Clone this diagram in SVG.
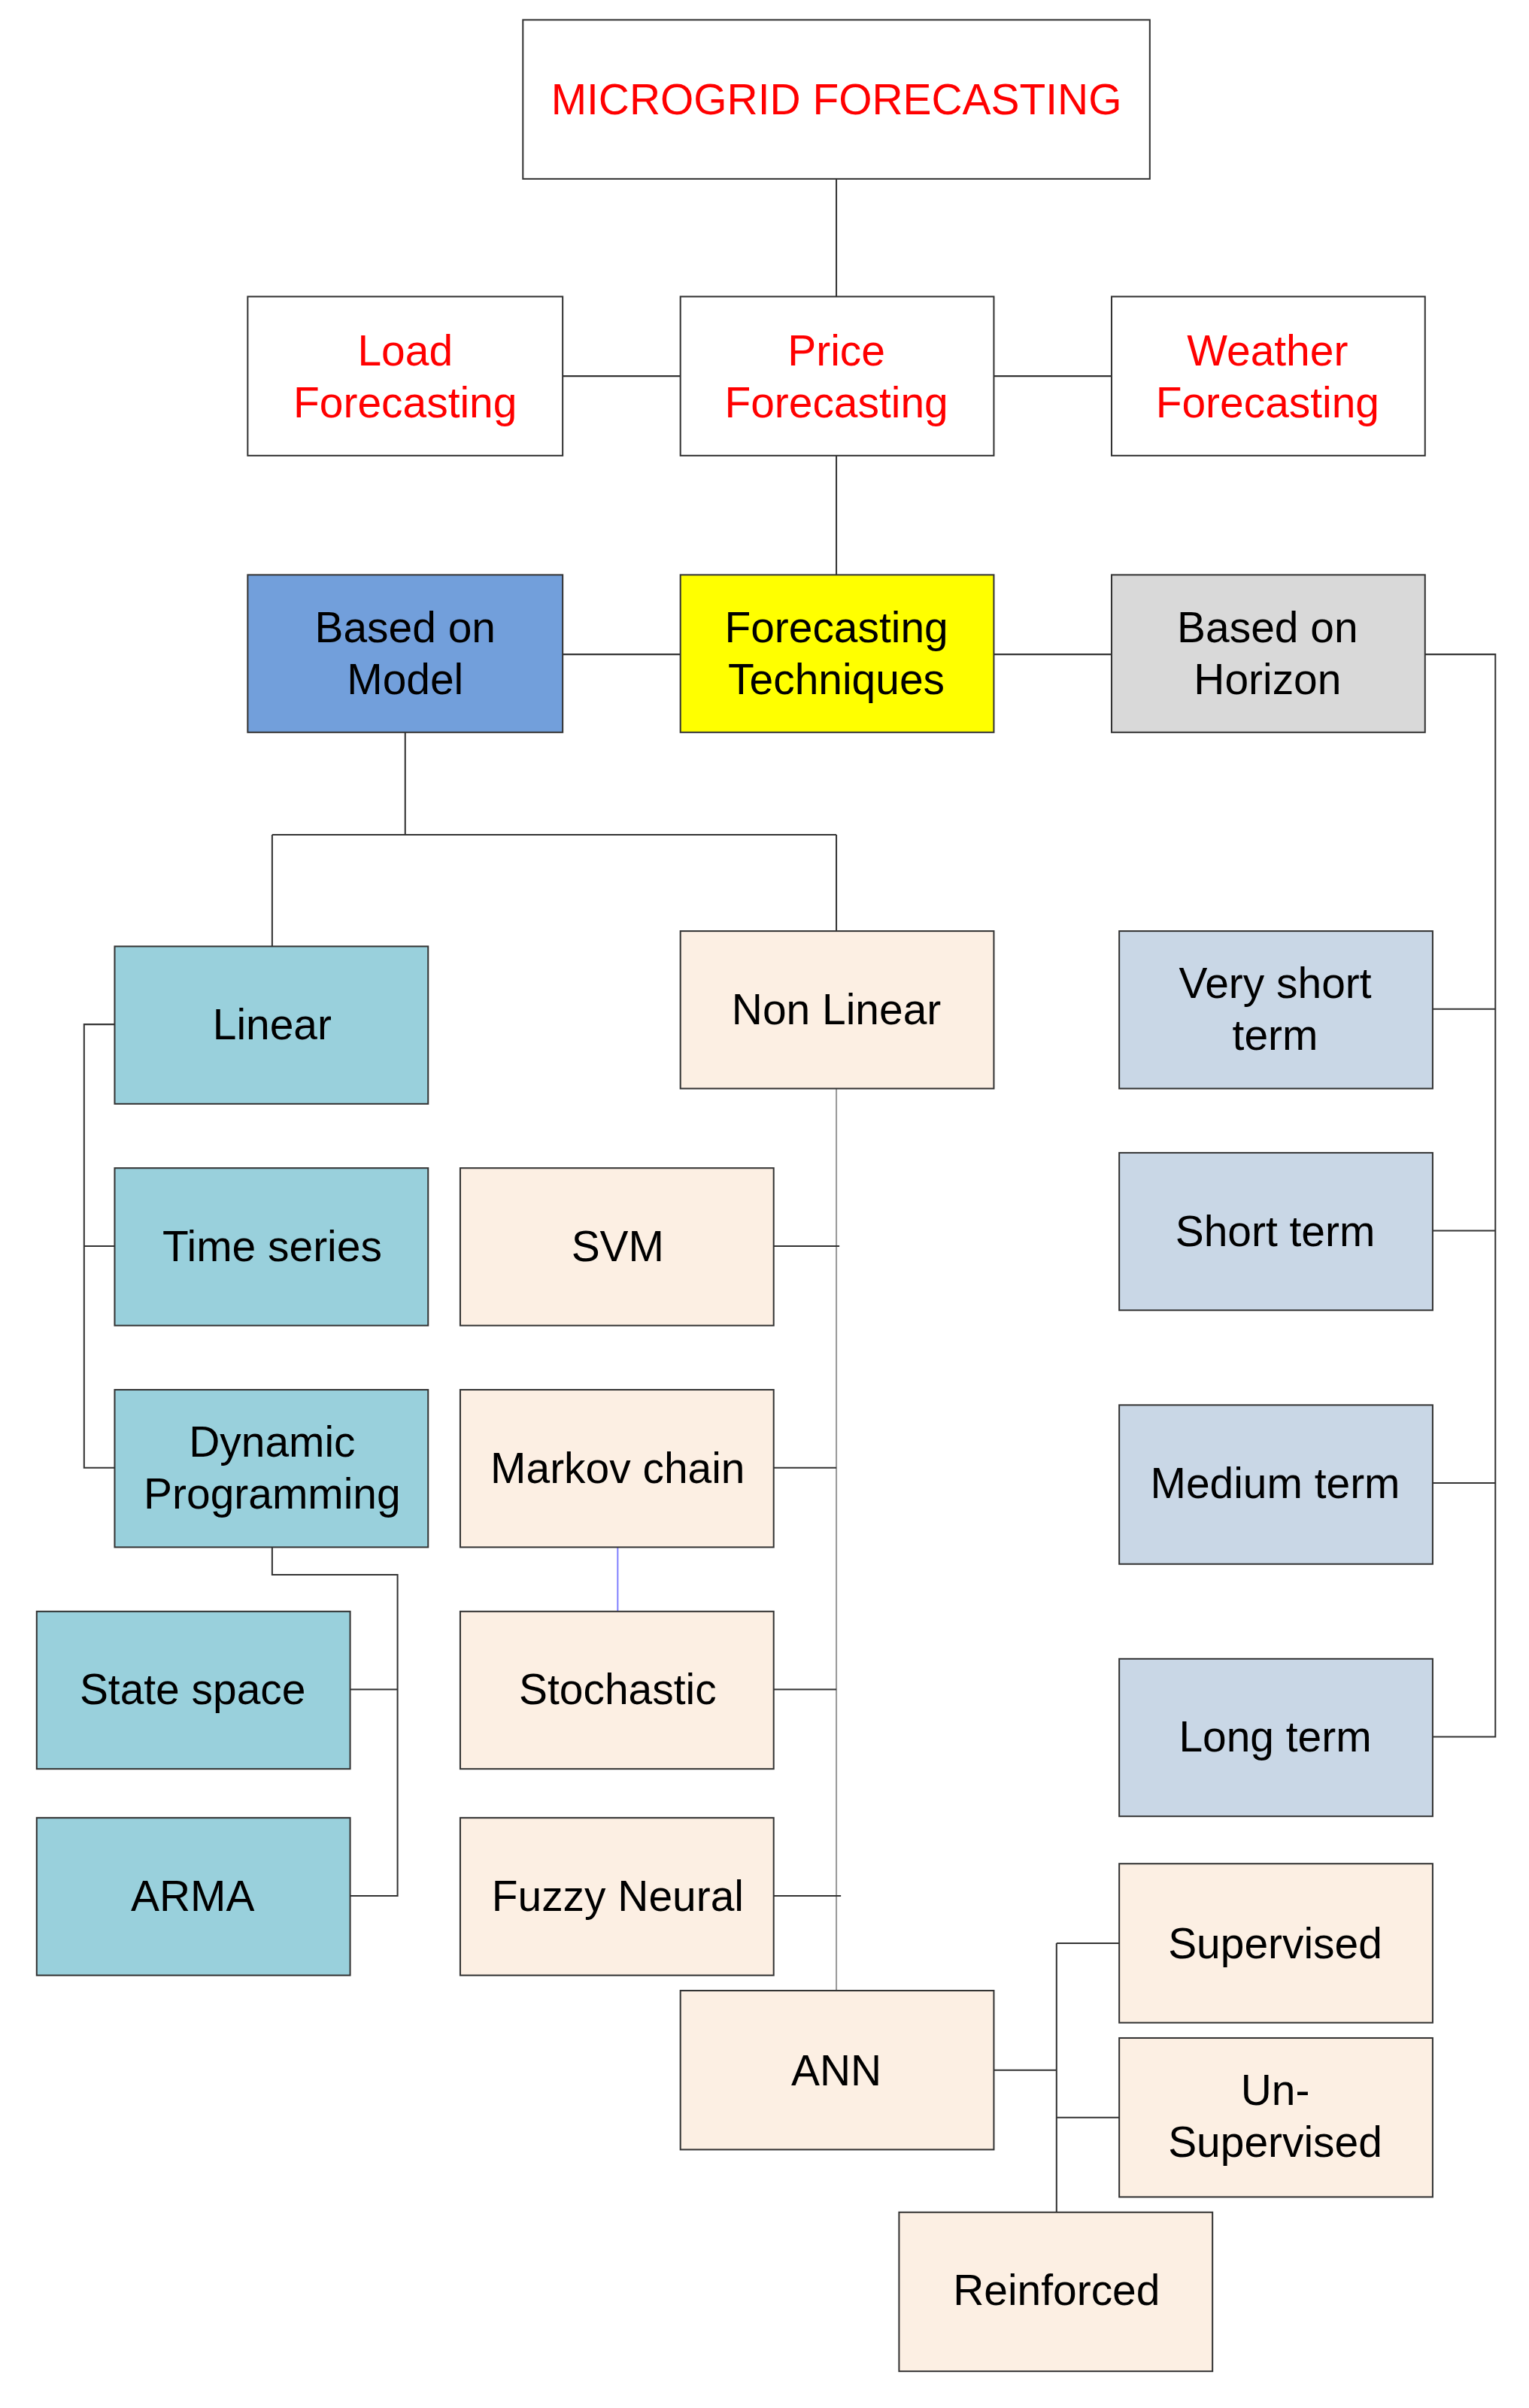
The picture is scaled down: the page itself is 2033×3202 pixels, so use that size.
<svg xmlns="http://www.w3.org/2000/svg" width="2033" height="3202" viewBox="0 0 2033 3202">
<style>
rect{stroke:#333;stroke-width:1}
text{font-family:"Liberation Sans",Arial,sans-serif;font-size:28px;text-anchor:middle;dominant-baseline:central;fill:#000}
.r{fill:#ff0000}
.w{fill:#fff}.lin{fill:#99d0dc}.nl{fill:#fcefe3}.hz{fill:#c9d7e6}
#connectors path{fill:none;stroke:#333;stroke-width:1}
</style>
<rect width="2033" height="3202" fill="#fff" style="stroke:none"/>
<g transform="scale(2.033)">
<g id="connectors">
<path d="M547,117V194M368,246H445M650,246H727M547,298V376M368,428H445M650,428H727"/>
<path d="M265,479V546M178,546H547M178,546V619M547,546V609"/>
<path d="M75,670H55V960H75M55,815H75"/>
<path d="M178,1012V1030H260V1240H229M229,1105H260"/>
<path d="M547,712V1302" style="stroke:#999"/>
<path d="M506,815H549M506,960H547M506,1105H547M506,1240H550"/>
<path d="M404,1012V1054" style="stroke:#8080ff"/>
<path d="M932,428H978V1136H937M937,660H978M937,805H978M937,970H978"/>
<path d="M650,1354H691M691,1271V1447M691,1271H732M691,1385H732"/>
</g>
<g id="n1"><rect class="w" x="342" y="13" width="410" height="104"/><text class="r" x="547" y="65">MICROGRID FORECASTING</text></g>
<g id="n2"><rect class="w" x="162" y="194" width="206" height="104"/><text class="r" x="265" y="229">Load</text><text class="r" x="265" y="263">Forecasting</text></g>
<g id="n3"><rect class="w" x="445" y="194" width="205" height="104"/><text class="r" x="547" y="229">Price</text><text class="r" x="547" y="263">Forecasting</text></g>
<g id="n4"><rect class="w" x="727" y="194" width="205" height="104"/><text class="r" x="829" y="229">Weather</text><text class="r" x="829" y="263">Forecasting</text></g>
<g id="n5"><rect x="162" y="376" width="206" height="103" fill="#729fdb"/><text x="265" y="410">Based on</text><text x="265" y="444">Model</text></g>
<g id="n6"><rect x="445" y="376" width="205" height="103" fill="#ffff00"/><text x="547" y="410">Forecasting</text><text x="547" y="444">Techniques</text></g>
<g id="n7"><rect x="727" y="376" width="205" height="103" fill="#d9d9d9"/><text x="829" y="410">Based on</text><text x="829" y="444">Horizon</text></g>
<g id="n8"><rect class="lin" x="75" y="619" width="205" height="103"/><text x="178" y="670">Linear</text></g>
<g id="n9"><rect class="nl" x="445" y="609" width="205" height="103"/><text x="547" y="660">Non Linear</text></g>
<g id="n10"><rect class="lin" x="75" y="764" width="205" height="103"/><text x="178" y="815">Time series</text></g>
<g id="n11"><rect class="lin" x="75" y="909" width="205" height="103"/><text x="178" y="943">Dynamic</text><text x="178" y="977">Programming</text></g>
<g id="n12"><rect class="nl" x="301" y="764" width="205" height="103"/><text x="404" y="815">SVM</text></g>
<g id="n13"><rect class="nl" x="301" y="909" width="205" height="103"/><text x="404" y="960">Markov chain</text></g>
<g id="n14"><rect class="nl" x="301" y="1054" width="205" height="103"/><text x="404" y="1105">Stochastic</text></g>
<g id="n15"><rect class="nl" x="301" y="1189" width="205" height="103"/><text x="404" y="1240">Fuzzy Neural</text></g>
<g id="n16"><rect class="lin" x="24" y="1054" width="205" height="103"/><text x="126" y="1105">State space</text></g>
<g id="n17"><rect class="lin" x="24" y="1189" width="205" height="103"/><text x="126" y="1240">ARMA</text></g>
<g id="n18"><rect class="nl" x="445" y="1302" width="205" height="104"/><text x="547" y="1354">ANN</text></g>
<g id="n19"><rect class="hz" x="732" y="609" width="205" height="103"/><text x="834" y="643">Very short</text><text x="834" y="677">term</text></g>
<g id="n20"><rect class="hz" x="732" y="754" width="205" height="103"/><text x="834" y="805">Short term</text></g>
<g id="n21"><rect class="hz" x="732" y="919" width="205" height="104"/><text x="834" y="970">Medium term</text></g>
<g id="n22"><rect class="hz" x="732" y="1085" width="205" height="103"/><text x="834" y="1136">Long term</text></g>
<g id="n23"><rect class="nl" x="732" y="1219" width="205" height="104"/><text x="834" y="1271">Supervised</text></g>
<g id="n24"><rect class="nl" x="732" y="1333" width="205" height="104"/><text x="834" y="1367">Un-</text><text x="834" y="1401">Supervised</text></g>
<g id="n25"><rect class="nl" x="588" y="1447" width="205" height="104"/><text x="691" y="1498">Reinforced</text></g>
</g>
</svg>
